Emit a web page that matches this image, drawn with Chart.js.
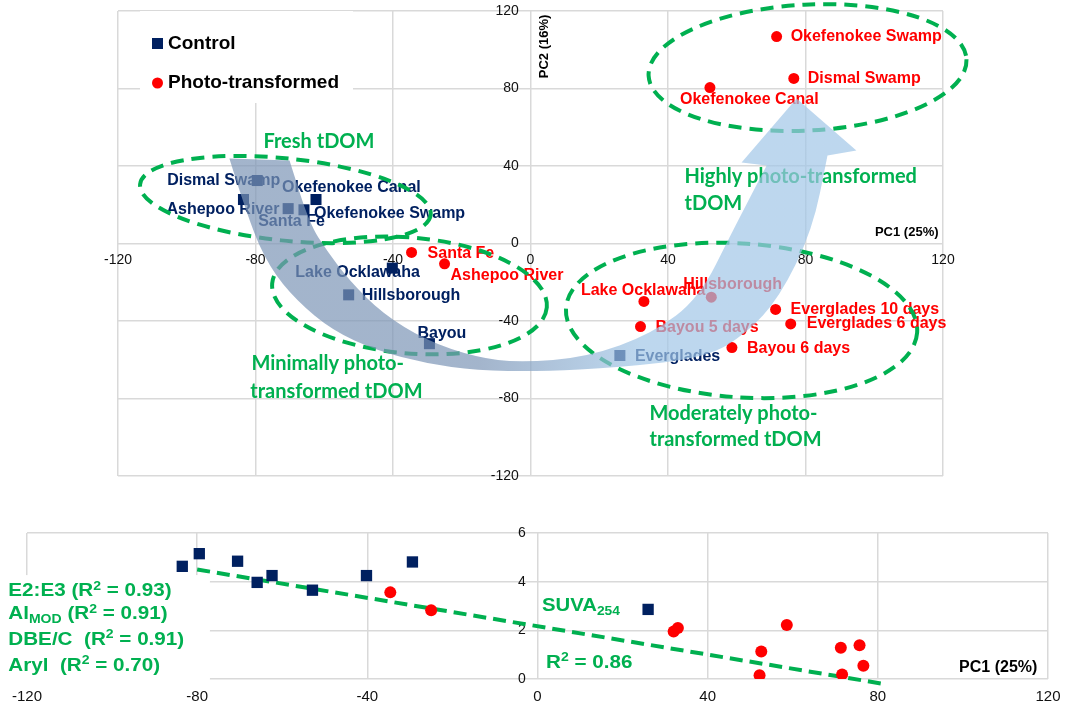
<!DOCTYPE html>
<html>
<head>
<meta charset="utf-8">
<script src="https://cdn.jsdelivr.net/npm/chart.js@4.4.1/dist/chart.umd.min.js"></script>
<style>
  html, body { margin: 0; padding: 0; background: #fff; overflow: hidden; }
  #wrap { position: relative; width: 1065px; height: 708px; overflow: hidden; }
  canvas { position: absolute; left: 0; }
  #pca { top: 0; }
  #suva { top: 500px; }
</style>
</head>
<body>
<div id="wrap">
  <canvas id="pca" width="1065" height="500"></canvas>
  <canvas id="suva" width="1070" height="208"></canvas>
</div>
<script>
// --- data ---
const controlNames = ['Dismal Swamp', 'Ashepoo River', 'Santa Fe', 'Okefenokee Swamp', 'Okefenokee Canal',
    'Lake Ocklawaha', 'Hillsborough', 'Bayou', 'Everglades'];
const controlPC1 = [-79.5, -83.5, -70.5, -65.9, -62.4, -40.2, -52.9, -29.4, 26.0];
const controlPC2 = [32.5, 22.7, 18.0, 17.4, 22.7, -12.7, -26.5, -51.7, -57.8];
const controlSUVA = [5.15, 4.63, 4.84, 3.97, 4.25, 4.25, 3.65, 4.81, 2.86];

const photoNames = ['Santa Fe', 'Ashepoo River', 'Okefenokee Swamp', 'Dismal Swamp', 'Okefenokee Canal',
    'Lake Ocklawaha', 'Hillsborough', 'Everglades 10 days', 'Everglades 6 days', 'Bayou 5 days', 'Bayou 6 days'];
const photoPC1 = [-34.6, -25.0, 71.6, 76.6, 52.2, 33.0, 52.6, 71.3, 75.7, 32.0, 58.6];
const photoPC2 = [-4.6, -10.5, 106.8, 85.2, 80.5, -29.9, -27.7, -34.0, -41.5, -42.9, -53.7];
const photoSUVA = [3.56, 2.83, 0.19, 0.54, 0.15, 2.10, 1.13, 1.28, 1.39, 1.95, 2.22];

// SUVA254 regression line end points
const trendPC1 = [-80, 82];
const trendSUVA = [4.5, -0.22];

const pcaTicks = [-120, -80, -40, 0, 40, 80, 120];
const suvaTicks = [0, 2, 4, 6];

// label placement (px from point: left edge of text, middle of text)
const controlLabelOffset = [[-90, 0], [-77, 10], [-30, 13], [10, 4], [-34, -12], [-97, 4], [13, 1], [-12, -10], [15, 1]];
const photoLabelOffset = [[16, 1], [6, 12], [14, 0], [14, 0], [-30, 12], [-63, -11], [-28, -13], [15, 0], [16, 0], [15, 1], [15, 1]];

const NAVY = '#002060';
const RED = '#ff0000';
const GREEN = '#00b050';
const GRID = '#d9d9d9';
const FONT = '"Liberation Sans", Arial, sans-serif';

// group ellipses in PC units: cx, cy, rx, ry, rotation (deg)
const groups = [
    { cx: -71.3, cy: 22.7, rx: 42.5, ry: 21.2, rot: 6 },
    { cx: -35.2, cy: -26.8, rx: 40.1, ry: 29.9, rot: 5 },
    { cx: 61.4, cy: -39.7, rx: 51.2, ry: 39.7, rot: 4 },
    { cx: 80.6, cy: 90.8, rx: 46.3, ry: 32.5, rot: -3 }
];
const groupText = [
    ['Fresh tDOM', -77.7, 52.6],
    ['Minimally photo-', -81.2, -61.9],
    ['transformed tDOM', -81.5, -76.4],
    ['Highly photo-transformed', 44.8, 34.6],
    ['tDOM', 44.8, 20.6],
    ['Moderately photo-', 34.6, -87.7],
    ['transformed tDOM', 34.6, -101.2]
];

// curved arrow outline in PC units
const arrowOuter = [[-87.6, 43.9], [-81.7, 10.3], [-75.9, -12.4], [-68.1, -29.4], [-57.6, -44.9], [-44.8, -55.2],
    [-30.3, -61.9], [-15.7, -65.5], [2.6, -66.1], [25.9, -64.0], [51.2, -58.8], [62.8, -46.5], [72.4, -27.9],
    [82.0, 6.7], [86.4, 45.4]];
const arrowHead = [[94.8, 48.0], [77.4, 74.8], [61.4, 41.8]];
const arrowInner = [[68.7, 40.3], [58.8, 6.7], [49.2, -27.9], [35.5, -46.5], [16.3, -58.8], [-3.2, -61.4],
    [-15.7, -58.8], [-30.3, -50.1], [-43.1, -36.1], [-52.7, -19.1], [-59.3, -3.6], [-64.3, 10.3], [-70.1, 42.8]];

function smoothTo(ctx, pts) {
    // quadratic curves through midpoints, passing through the first and last point
    ctx.lineTo(pts[0][0], pts[0][1]);
    for (let i = 1; i < pts.length - 1; i++) {
        const mx = (pts[i][0] + pts[i + 1][0]) / 2;
        const my = (pts[i][1] + pts[i + 1][1]) / 2;
        ctx.quadraticCurveTo(pts[i][0], pts[i][1], mx, my);
    }
    const last = pts[pts.length - 1];
    ctx.lineTo(last[0], last[1]);
}

// text with sub/superscripts, optionally stretched sideways like the source figure
function drawRich(ctx, parts, x, y, size, color, sx) {
    ctx.save();
    ctx.translate(x, y);
    ctx.scale(sx || 1, 1);
    ctx.fillStyle = color;
    ctx.textBaseline = 'middle';
    ctx.textAlign = 'left';
    let cx = 0;
    parts.forEach(([t, mode]) => {
        const s = mode ? size * 0.68 : size;
        ctx.font = `bold ${s}px ${FONT}`;
        const dy = mode === 'sub' ? size * 0.3 : mode === 'sup' ? -size * 0.28 : 0;
        ctx.fillText(t, cx, dy);
        cx += ctx.measureText(t).width;
    });
    ctx.restore();
}

const pcaDecor = {
    id: 'pcaDecor',
    beforeDatasetsDraw(chart) {
        const ctx = chart.ctx;
        ctx.save();
        ctx.font = `bold 16px ${FONT}`;
        ctx.textBaseline = 'middle';
        ctx.textAlign = 'left';
        ctx.fillStyle = NAVY;
        chart.getDatasetMeta(0).data.forEach((pt, i) => {
            const [dx, dy] = controlLabelOffset[i];
            ctx.fillText(controlNames[i], pt.x + dx, pt.y + dy);
        });
        ctx.fillStyle = RED;
        chart.getDatasetMeta(1).data.forEach((pt, i) => {
            const [dx, dy] = photoLabelOffset[i];
            ctx.fillText(photoNames[i], pt.x + dx, pt.y + dy);
        });
        ctx.restore();
    },
    afterDatasetsDraw(chart) {
        const { ctx, chartArea, scales: { x, y } } = chart;
        const px = v => x.getPixelForValue(v);
        const py = v => y.getPixelForValue(v);
        ctx.save();

        // legend box
        const lx = chartArea.left + 22, ly = chartArea.top;
        ctx.fillStyle = '#fff';
        ctx.fillRect(lx, ly, 213, 92);
        ctx.fillStyle = NAVY;
        ctx.fillRect(lx + 12, ly + 27, 11, 11);
        ctx.fillStyle = RED;
        ctx.beginPath();
        ctx.arc(lx + 17.5, ly + 72, 5.5, 0, Math.PI * 2);
        ctx.fill();
        ctx.fillStyle = '#000';
        ctx.font = `bold 19px ${FONT}`;
        ctx.textBaseline = 'middle';
        ctx.fillText('Control', lx + 28, ly + 33);
        ctx.fillText('Photo-transformed', lx + 28, ly + 72);

        // axis titles
        ctx.font = `bold 13px ${FONT}`;
        ctx.textAlign = 'right';
        ctx.fillText('PC1 (25%)', px(118.7), py(5.7));
        ctx.save();
        ctx.translate(px(4.1), py(101.7));
        ctx.rotate(-Math.PI / 2);
        ctx.textAlign = 'center';
        ctx.fillText('PC2 (16%)', 0, 0);
        ctx.restore();

        // dashed group ellipses
        ctx.strokeStyle = GREEN;
        ctx.lineWidth = 4;
        ctx.setLineDash([13, 8]);
        groups.forEach(g => {
            const rx = Math.abs(px(g.cx + g.rx) - px(g.cx));
            const ry = Math.abs(py(g.cy + g.ry) - py(g.cy));
            ctx.beginPath();
            ctx.ellipse(px(g.cx), py(g.cy), rx, ry, g.rot * Math.PI / 180, 0, Math.PI * 2);
            ctx.stroke();
        });
        ctx.setLineDash([]);

        // group names
        ctx.fillStyle = GREEN;
        ctx.textAlign = 'left';
        ctx.font = `bold 20px Lato, ${FONT}`;
        groupText.forEach(([t, gx, gy]) => ctx.fillText(t, px(gx), py(gy)));

        // curved arrow on top
        const toPx = p => [px(p[0]), py(p[1])];
        const grad = ctx.createLinearGradient(px(-15), 0, px(32), 0);
        grad.addColorStop(0, 'rgba(124,149,182,0.7)');
        grad.addColorStop(1, 'rgba(161,198,231,0.7)');
        ctx.fillStyle = grad;
        ctx.beginPath();
        const outer = arrowOuter.map(toPx);
        ctx.moveTo(outer[0][0], outer[0][1]);
        smoothTo(ctx, outer);
        arrowHead.map(toPx).forEach(p => ctx.lineTo(p[0], p[1]));
        smoothTo(ctx, arrowInner.map(toPx));
        ctx.closePath();
        ctx.fill();

        ctx.restore();
    }
};

const suvaDecor = {
    id: 'suvaDecor',
    beforeDatasetsDraw(chart) {
        const { ctx, scales: { x, y } } = chart;
        ctx.save();
        ctx.fillStyle = '#fff';
        const top = y.getPixelForValue(4.27);
        ctx.fillRect(0, top, x.getPixelForValue(-77), y.getPixelForValue(0) + 2 - top);
        ctx.restore();
    },
    afterDatasetsDraw(chart) {
        const { ctx, scales: { x, y } } = chart;
        const px = v => x.getPixelForValue(v);
        const py = v => y.getPixelForValue(v);
        const left = px(-124.4);
        drawRich(ctx, [['E2:E3 (R'], ['2', 'sup'], [' = 0.93)']], left, py(3.61), 17.5, GREEN, 1.18);
        drawRich(ctx, [['Al'], ['MOD', 'sub'], [' (R'], ['2', 'sup'], [' = 0.91)']], left, py(2.66), 17.5, GREEN, 1.18);
        drawRich(ctx, [['DBE/C  (R'], ['2', 'sup'], [' = 0.91)']], left, py(1.61), 17.5, GREEN, 1.18);
        drawRich(ctx, [['Aryl  (R'], ['2', 'sup'], [' = 0.70)']], left, py(0.54), 17.5, GREEN, 1.18);
        drawRich(ctx, [['SUVA'], ['254', 'sub']], px(1.06), py(3.0), 17.5, GREEN, 1.16);
        drawRich(ctx, [['R'], ['2', 'sup'], [' = 0.86']], px(2.0), py(0.67), 17.5, GREEN, 1.18);
        ctx.save();
        ctx.fillStyle = '#000';
        ctx.font = `bold 16px ${FONT}`;
        ctx.textAlign = 'right';
        ctx.textBaseline = 'middle';
        ctx.fillText('PC1 (25%)', px(117.5), py(0.46));
        ctx.restore();
    }
};

function axisOpts(min, max, ticks, pos, size, pad, isY) {
    return {
        type: 'linear',
        min: min,
        max: max,
        position: pos,
        afterBuildTicks: s => { s.ticks = ticks.map(v => ({ value: v })); },
        ticks: {
            color: '#111',
            font: { family: FONT, size: size },
            padding: pad,
            maxRotation: 0,
            autoSkip: false,
            callback: v => isY ? v + '   ' : String(v)
        },
        grid: { color: GRID, lineWidth: 1.5, drawTicks: false },
        border: { display: false }
    };
}

new Chart(document.getElementById('pca'), {
    type: 'scatter',
    data: {
        datasets: [
            {
                label: 'Control',
                data: controlPC1.map((v, i) => ({ x: v, y: controlPC2[i] })),
                pointStyle: 'rect', pointRadius: 7.8, backgroundColor: NAVY, borderWidth: 0
            },
            {
                label: 'Photo-transformed',
                data: photoPC1.map((v, i) => ({ x: v, y: photoPC2[i] })),
                pointStyle: 'circle', pointRadius: 5.5, backgroundColor: RED, borderWidth: 0
            }
        ]
    },
    options: {
        responsive: false,
        animation: false,
        devicePixelRatio: 1,
        events: [],
        layout: { padding: { left: 118, right: 122, top: 11, bottom: 24 } },
        plugins: { legend: { display: false }, tooltip: { enabled: false } },
        scales: {
            x: axisOpts(-120, 120, pcaTicks, { y: 0 }, 14, 8, false),
            y: axisOpts(-120, 120, pcaTicks, { x: 0 }, 14, 0, true)
        }
    },
    plugins: [pcaDecor]
});

new Chart(document.getElementById('suva'), {
    type: 'scatter',
    data: {
        datasets: [
            {
                label: 'Control',
                data: controlPC1.map((v, i) => ({ x: v, y: controlSUVA[i] })),
                pointStyle: 'rect', pointRadius: 8, backgroundColor: NAVY, borderWidth: 0
            },
            {
                label: 'Photo-transformed',
                data: photoPC1.map((v, i) => ({ x: v, y: photoSUVA[i] })),
                pointStyle: 'circle', pointRadius: 6, backgroundColor: RED, borderWidth: 0
            },
            {
                type: 'line',
                label: 'SUVA254 fit',
                data: trendPC1.map((v, i) => ({ x: v, y: trendSUVA[i] })),
                borderColor: GREEN, borderWidth: 4, borderDash: [13, 7],
                pointRadius: 0, fill: false, clip: false
            }
        ]
    },
    options: {
        responsive: false,
        animation: false,
        devicePixelRatio: 1,
        events: [],
        layout: { padding: { left: 27, right: 22, top: 33, bottom: 29 } },
        plugins: { legend: { display: false }, tooltip: { enabled: false } },
        scales: {
            x: axisOpts(-120, 120, pcaTicks, { y: 0 }, 15, 9, false),
            y: axisOpts(0, 6, suvaTicks, { x: 0 }, 14, 0, true)
        }
    },
    plugins: [suvaDecor]
});
</script>
</body>
</html>
